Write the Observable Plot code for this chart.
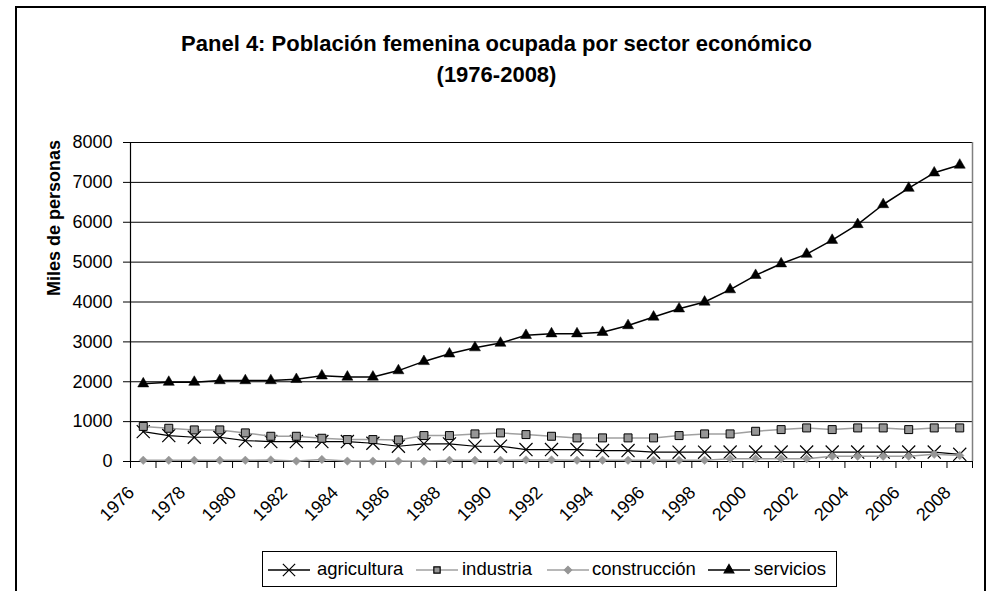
<!DOCTYPE html>
<html>
<head>
<meta charset="utf-8">
<script src="https://cdn.jsdelivr.net/npm/d3@7"></script>
<script src="https://cdn.jsdelivr.net/npm/@observablehq/plot@0.6"></script>
<style>
  body { margin: 0; background: #fff; font-family: "Liberation Sans", Arial, sans-serif; }
  #wrap { position: relative; width: 993px; height: 591px; overflow: hidden; background: #fff; }
  #frame { position: absolute; left: 15px; top: 6px; width: 971px; height: 700px; border: 2px solid #000; box-sizing: border-box; }
  #title { position: absolute; left: 0; top: 28px; width: 993px; text-align: center; font-weight: bold; font-size: 22px; line-height: 31px; color: #000; }
  #chart { position: absolute; left: 0; top: 0; }
  #legend { position: absolute; left: 262px; top: 551px; width: 575px; height: 36px; border: 1px solid #000; box-sizing: border-box; background: #fff; }
  #legend span { position: absolute; top: 6px; font-size: 18.5px; line-height: 22px; color: #000; white-space: nowrap; }
  #legend svg { position: absolute; top: 0; }
</style>
</head>
<body>
<div id="wrap">
  <div id="frame"></div>
  <div id="chart"></div>
  <div id="title">Panel 4: Población femenina ocupada por sector económico<br>(1976-2008)</div>
  <div id="legend"></div>
</div>
<script>
// ---- data ----
const years = [1976,1977,1978,1979,1980,1981,1982,1983,1984,1985,1986,1987,1988,1989,1990,1991,1992,1993,1994,1995,1996,1997,1998,1999,2000,2001,2002,2003,2004,2005,2006,2007,2008];
const agricultura = [750,650,608,608,525,500,500,500,500,458,383,442,442,383,383,300,300,300,275,275,233,233,233,237,237,237,237,237,237,237,237,237,180];
const industria = [880,833,792,792,717,633,633,583,550,550,542,650,650,692,717,675,633,592,592,592,592,650,692,692,758,800,842,800,842,842,800,842,842];
const construccion = [30,30,30,30,30,40,10,50,10,10,10,5,30,30,30,40,40,30,30,30,30,30,30,70,70,70,70,130,130,130,130,180,150];
const servicios = [1950,1990,1990,2030,2030,2030,2060,2150,2120,2120,2280,2510,2700,2855,2970,3165,3205,3205,3240,3410,3625,3830,4000,4310,4670,4960,5200,5550,5945,6445,6855,7240,7435];
const seriesNames = ["agricultura", "industria", "construcción", "servicios"];
const yTicks = [0,1000,2000,3000,4000,5000,6000,7000,8000];
const xLabelYears = [1976,1978,1980,1982,1984,1986,1988,1990,1992,1994,1996,1998,2000,2002,2004,2006,2008];
const yTitle = "Miles de personas";

// ---- build tables ----
const rows = (vals, name) => years.map((yr, i) => ({year: yr, value: vals[i], serie: name}));
const dAgr = rows(agricultura, seriesNames[0]);
const dInd = rows(industria, seriesNames[1]);
const dCon = rows(construccion, seriesNames[2]);
const dSer = rows(servicios, seriesNames[3]);
const x0 = years[0] - 0.5, x1 = years[years.length - 1] + 0.5;
const boundaries = d3.range(x0, x1 + 0.01, 1);
const grids = yTicks.filter(d => d > 0);

const GRAY = "#969696";
const LGRAY = "#a0a0a0";

const plot = Plot.plot({
  width: 993,
  height: 591,
  marginLeft: 130,
  marginRight: 21,
  marginTop: 142,
  marginBottom: 130,
  style: {fontFamily: "'Liberation Sans', Arial, sans-serif", fontSize: "18px", color: "#000", background: "transparent", overflow: "visible"},
  x: {type: "linear", domain: [x0, x1]},
  y: {domain: [0, 8000]},
  marks: [
    Plot.ruleY(grids, {y: d => d, stroke: "#000", strokeWidth: 1}),
    Plot.ruleX([x1], {x: d => d, stroke: "#808080", strokeWidth: 1.5}),
    Plot.axisY({ticks: yTicks, tickSize: 7, tickPadding: 11, label: null, fontSize: 18, tickFormat: d => String(d)}),
    Plot.axisX({ticks: boundaries, tickSize: 7, label: null, tickFormat: () => ""}),
    Plot.ruleX([x0], {x: d => d, stroke: "#000", strokeWidth: 1.2}),
    Plot.ruleY([0], {y: d => d, stroke: "#000", strokeWidth: 1.2}),
    Plot.text(xLabelYears, {x: d => d, y: () => 0, text: d => String(d), rotate: -45, textAnchor: "end", dx: -12, dy: 28, fontSize: 18}),
    Plot.text([yTitle], {frameAnchor: "left", text: d => d, rotate: -90, dx: -76, dy: -6, fontWeight: "bold", fontSize: 18}),
    // agricultura
    Plot.line(dAgr, {x: "year", y: "value", stroke: "#000", strokeWidth: 1.2}),
    Plot.dot(dAgr, {x: "year", y: "value", symbol: "times", r: 6, stroke: "#000", strokeWidth: 1.2}),
    // industria
    Plot.line(dInd, {x: "year", y: "value", stroke: LGRAY, strokeWidth: 1.5}),
    Plot.dot(dInd, {x: "year", y: "value", symbol: "square", r: 4.5, fill: GRAY, stroke: "#000", strokeWidth: 1}),
    // construcción
    Plot.line(dCon, {x: "year", y: "value", stroke: LGRAY, strokeWidth: 1.5}),
    Plot.dot(dCon, {x: "year", y: "value", symbol: "diamond2", r: 3.8, fill: GRAY, stroke: GRAY, strokeWidth: 0.5}),
    // servicios
    Plot.line(dSer, {x: "year", y: "value", stroke: "#000", strokeWidth: 1.5}),
    Plot.dot(dSer, {x: "year", y: "value", symbol: "triangle", r: 4.1, fill: "#000", stroke: "#000", strokeWidth: 0.5})
  ]
});
document.getElementById("chart").appendChild(plot);

// ---- legend ----
const legend = document.getElementById("legend");
const legItems = [
  {name: seriesNames[0], lineX: 5, textX: 54, line: "#000", sym: d3.symbolTimes, size: 100, fill: "none", stroke: "#000"},
  {name: seriesNames[1], lineX: 153, textX: 199, line: LGRAY, sym: d3.symbolSquare, size: 40, fill: GRAY, stroke: "#000"},
  {name: seriesNames[2], lineX: 284, textX: 329, line: LGRAY, sym: d3.symbolDiamond2, size: 34, fill: GRAY, stroke: GRAY},
  {name: seriesNames[3], lineX: 445, textX: 491, line: "#000", sym: d3.symbolTriangle, size: 40, fill: "#000", stroke: "#000"}
];
const NS = "http://www.w3.org/2000/svg";
for (const it of legItems) {
  const svg = document.createElementNS(NS, "svg");
  svg.setAttribute("width", 42); svg.setAttribute("height", 34);
  svg.style.left = it.lineX + "px";
  const ln = document.createElementNS(NS, "line");
  ln.setAttribute("x1", 0); ln.setAttribute("x2", 42); ln.setAttribute("y1", 18); ln.setAttribute("y2", 18);
  ln.setAttribute("stroke", it.line); ln.setAttribute("stroke-width", 1.5);
  svg.appendChild(ln);
  const p = document.createElementNS(NS, "path");
  p.setAttribute("d", d3.symbol(it.sym, it.size)());
  p.setAttribute("transform", "translate(21,18)");
  p.setAttribute("fill", it.fill); p.setAttribute("stroke", it.stroke); p.setAttribute("stroke-width", 1.2);
  svg.appendChild(p);
  legend.appendChild(svg);
  const s = document.createElement("span");
  s.textContent = it.name;
  s.style.left = it.textX + "px";
  legend.appendChild(s);
}
</script>
</body>
</html>
